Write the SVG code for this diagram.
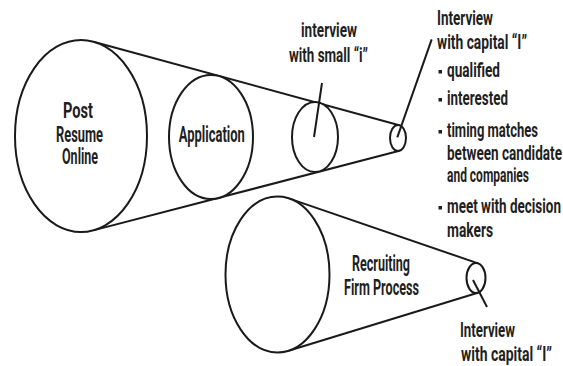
<svg xmlns="http://www.w3.org/2000/svg" width="563" height="366" viewBox="0 0 563 366">
<style>
.s{fill:none;stroke:#1a1a1a;stroke-width:2}
.n{fill:#fff;stroke:#1a1a1a;stroke-width:2}
text{font-family:"Roboto","Liberation Sans",sans-serif;font-weight:700;font-size:22px;fill:#1f1f1f}
.l{font-size:20px}
.m{text-anchor:middle}
.b{fill:#1f1f1f}
</style>
<rect width="563" height="366" fill="#fff"/>
<g id="connectors">
<line class="s" x1="93.4" y1="41.7" x2="399.3" y2="125.2"/>
<line class="s" x1="93.2" y1="230.4" x2="399.5" y2="150.8"/>
<line class="s" x1="289.4" y1="198.6" x2="478.1" y2="263.4"/>
<line class="s" x1="288.5" y1="350.7" x2="477.9" y2="292.7"/>
</g>
<g id="post-resume">
<ellipse class="n" cx="81" cy="136" rx="66" ry="96"/>
<text class="m" transform="translate(78,118) scale(0.62,1)" textLength="48.4" lengthAdjust="spacingAndGlyphs">Post</text>
<text class="m" transform="translate(79.5,142) scale(0.62,1)" textLength="75.8" lengthAdjust="spacingAndGlyphs">Resume</text>
<text class="m" transform="translate(80,164) scale(0.62,1)" textLength="58.1" lengthAdjust="spacingAndGlyphs">Online</text>
</g>
<g id="application">
<ellipse class="n" cx="211" cy="137" rx="42" ry="62"/>
<text class="m" transform="translate(211.8,142.3) scale(0.62,1)" textLength="106.5" lengthAdjust="spacingAndGlyphs">Application</text>
</g>
<g id="interview-small">
<ellipse class="n" cx="315" cy="137" rx="23" ry="35"/>
<line class="s" x1="322" y1="83" x2="314" y2="137"/>
<text class="m l" transform="translate(329,37) scale(0.66,1)" textLength="84.8" lengthAdjust="spacingAndGlyphs">interview</text>
<text class="m l" transform="translate(328.5,62) scale(0.66,1)" textLength="119.7" lengthAdjust="spacingAndGlyphs">with small “i”</text>
</g>
<g id="interview-capital">
<ellipse class="n" cx="398" cy="138" rx="8" ry="13"/>
<line class="s" x1="431.7" y1="39.3" x2="397.3" y2="137.3"/>
<text class="l" transform="translate(437,25) scale(0.66,1)" textLength="84.8" lengthAdjust="spacingAndGlyphs">Interview</text>
<text class="l" transform="translate(437,49) scale(0.66,1)" textLength="136.4" lengthAdjust="spacingAndGlyphs">with capital “I”</text>
<rect class="b" x="438.5" y="70" width="3.5" height="3.5"/>
<text class="l" transform="translate(447,77) scale(0.66,1)" textLength="80.3" lengthAdjust="spacingAndGlyphs">qualified</text>
<rect class="b" x="438.5" y="98" width="3.5" height="3.5"/>
<text class="l" transform="translate(447,105) scale(0.66,1)" textLength="92.4" lengthAdjust="spacingAndGlyphs">interested</text>
<rect class="b" x="438.5" y="130" width="3.5" height="3.5"/>
<text class="l" transform="translate(447,137) scale(0.66,1)" textLength="137.9" lengthAdjust="spacingAndGlyphs">timing matches</text>
<text class="l" transform="translate(447,160) scale(0.66,1)" textLength="174.2" lengthAdjust="spacingAndGlyphs">between candidate</text>
<text class="l" transform="translate(447,182) scale(0.66,1)" textLength="124.2" lengthAdjust="spacingAndGlyphs">and companies</text>
<rect class="b" x="438.5" y="206" width="3.5" height="3.5"/>
<text class="l" transform="translate(447,213) scale(0.66,1)" textLength="172.7" lengthAdjust="spacingAndGlyphs">meet with decision</text>
<text class="l" transform="translate(447,237) scale(0.66,1)" textLength="69.7" lengthAdjust="spacingAndGlyphs">makers</text>
</g>
<g id="recruiting">
<ellipse class="n" cx="277.5" cy="274.5" rx="52" ry="78"/>
<text class="m" transform="translate(381,271) scale(0.62,1)" textLength="93.5" lengthAdjust="spacingAndGlyphs">Recruiting</text>
<text class="m" transform="translate(381.5,295) scale(0.62,1)" textLength="121" lengthAdjust="spacingAndGlyphs">Firm Process</text>
</g>
<g id="recruiting-interview">
<ellipse class="n" cx="476" cy="278" rx="9.5" ry="15"/>
<line class="s" x1="473" y1="280" x2="487" y2="307"/>
<text transform="translate(460,337) scale(0.64,1)" textLength="85.9" lengthAdjust="spacingAndGlyphs" style="font-size:21px">Interview</text>
<text transform="translate(461,361) scale(0.64,1)" textLength="142.2" lengthAdjust="spacingAndGlyphs" style="font-size:21px">with capital “I”</text>
</g>
</svg>
